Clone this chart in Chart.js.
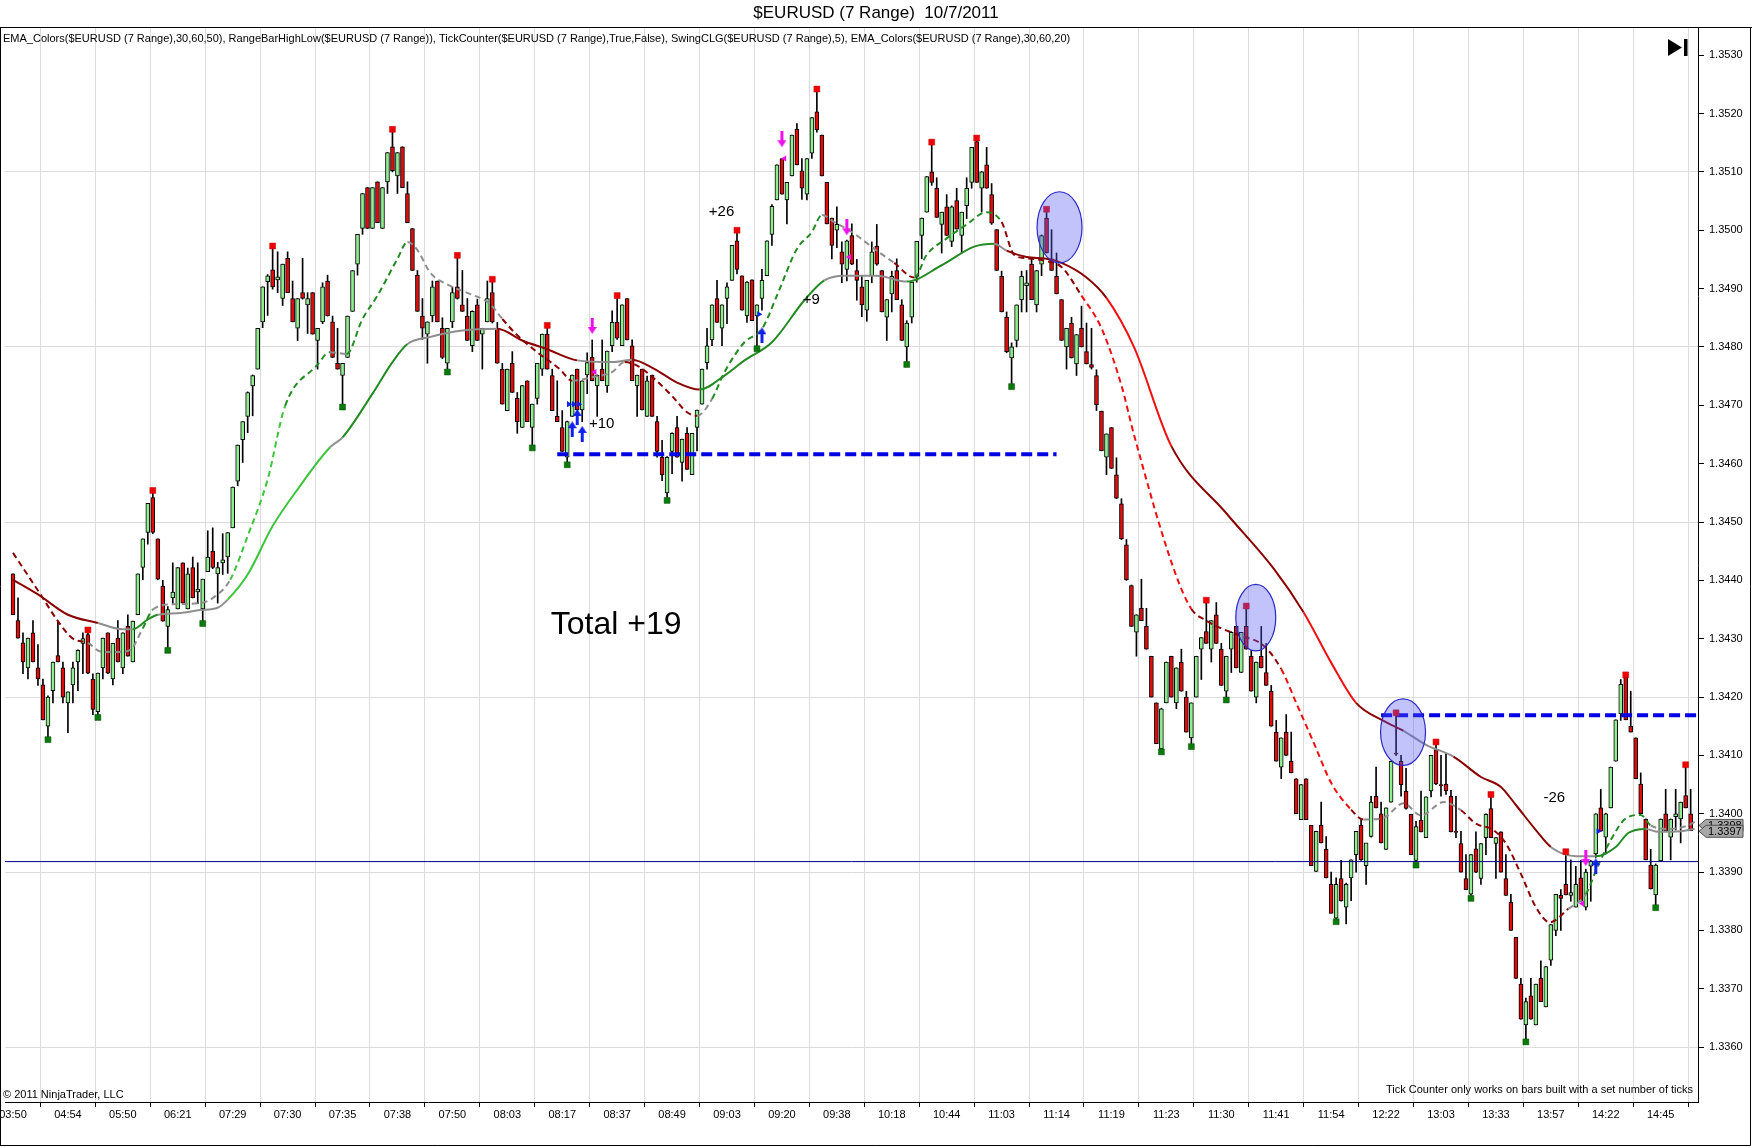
<!DOCTYPE html>
<html><head><meta charset="utf-8">
<script src="https://cdn.jsdelivr.net/npm/chart.js@4.4.1/dist/chart.umd.min.js"></script>
<style>html,body{margin:0;padding:0;background:#fff;overflow:hidden}canvas{display:block}</style>
</head><body>
<canvas id="c" width="1752" height="1147"></canvas>
<script>
// ---------------- DATA (prices in pips above BASE_PRICE) ----------------
const BASE_PRICE = 1.34;
const PIP = 0.0001;
const timeLabels = ['03:50','04:54','05:50','06:21','07:29','07:30','07:35','07:38','07:50','08:03','08:17','08:37','08:49','09:03','09:20','09:38','10:18','10:44','11:03','11:14','11:19','11:23','11:30','11:41','11:54','12:22','13:03','13:33','13:57','14:22','14:45'];
const BARS_PER_LABEL = 11;
const priceTickLabels = ['1.3360','1.3370','1.3380','1.3390','1.3400','1.3410','1.3420','1.3430','1.3440','1.3450','1.3460','1.3470','1.3480','1.3490','1.3500','1.3510','1.3520','1.3530'];

const open = [
41.1,33.1,29.3,25.0,31.0,25.0,22.1,15.0,21.1,27.1,
25.0,19.0,22.1,26.0,29.2,30.7,23.1,17.5,25.0,31.0,
23.1,30.1,25.0,32.1,26.0,34.1,42.2,48.2,54.2,47.1,
39.0,32.1,37.0,35.1,43.0,35.1,42.2,38.0,35.1,41.5,
45.0,41.1,43.0,44.0,49.0,57.0,64.1,68.1,73.3,76.2,
84.3,91.2,93.2,91.5,88.3,95.2,88.3,83.2,89.3,87.2,
89.3,81.1,84.3,91.3,84.3,77.2,75.1,78.2,86.1,94.2,
100.3,107.3,100.3,108.3,100.3,108.3,114.3,109.3,114.3,106.3,
100.3,92.3,85.3,82.2,85.3,91.3,83.2,77.2,84.3,90.3,
87.2,85.3,80.2,87.2,82.2,84.3,89.3,83.2,76.2,69.1,
77.2,71.2,66.2,74.2,66.2,71.2,76.2,82.2,75.1,68.1,
66.2,61.1,68.1,76.2,69.2,75.2,78.2,73.3,76.2,73.3,
80.2,84.2,80.2,88.3,80.2,73.3,76.2,68.1,75.2,67.2,
61.1,55.0,62.1,66.2,60.2,65.2,58.1,66.2,70.2,77.3,
81.2,88.3,83.2,88.3,91.4,98.2,92.2,85.3,91.5,85.3,
88.3,92.2,99.3,105.2,112.3,105.2,109.3,117.3,110.2,106.2,
113.2,120.3,116.3,108.2,102.1,100.0,96.3,93.3,99.1,93.1,
90.3,86.3,92.2,97.3,93.1,85.1,89.1,93.1,87.2,80.0,
85.1,92.1,99.1,103.1,110.0,107.2,101.0,104.0,98.1,105.1,
99.1,104.2,108.2,115.2,107.2,111.2,106.1,100.1,92.1,85.1,
78.1,81.1,88.1,90.5,94.2,87.2,94.2,102.1,95.1,92.1,
88.1,80.0,84.1,77.1,83.2,79.2,77.0,75.1,69.0,61.1,
66.2,58.1,53.1,46.1,39.1,31.1,35.2,32.1,27.0,19.0,
11.1,19.0,27.0,19.0,26.0,20.0,13.0,20.0,28.2,31.2,
28.2,34.1,28.2,21.0,28.2,32.1,24.2,32.1,27.0,20.0,
27.0,24.2,21.0,14.0,8.0,14.0,9.0,6.0,-1.0,6.0,
-2.0,-9.9,-2.0,-6.1,-12.1,-17.9,-11.1,-16.0,-11.0,-7.0,
-2.0,-8.9,-3.9,3.0,0.0,-6.1,2.0,10.4,9.0,3.9,
-0.1,-8.0,-1.1,-4.1,3.9,11.0,5.0,5.1,3.0,-3.0,
-5.1,-11.1,-13.8,-6.0,-11.1,-4.1,0.9,-5.1,-3.1,-11.1,
-15.2,-21.2,-29.2,-36.2,-31.2,-36.2,-28.2,-33.1,-25.1,-20.0,
-14.0,-12.1,-14.0,-16.0,-11.0,-16.0,-9.0,-6.9,1.0,-4.0,
1.0,9.0,17.1,23.4,15.0,13.0,5.1,-0.9,-8.8,-13.9,
-8.1,0.0,-4.0,-0.5,-0.9,3.1,0.0];

const high = [
41.1,37.0,31.0,30.1,33.1,29.0,23.1,20.2,26.0,33.0,
26.0,20.9,26.0,28.1,31.0,31.0,24.0,24.1,30.1,31.0,
29.2,33.1,31.0,34.1,33.0,41.1,47.1,53.2,55.0,47.1,
40.0,35.5,43.0,42.2,43.0,42.1,44.0,43.0,40.2,48.5,
49.0,43.1,48.0,48.2,56.0,63.2,67.2,72.3,75.2,83.2,
90.3,92.4,96.9,96.3,94.2,96.3,91.3,88.3,95.2,89.3,
89.3,83.2,91.0,92.3,85.3,83.2,77.2,85.3,93.1,99.3,
106.3,107.3,107.3,108.3,107.3,113.3,116.9,113.3,114.3,108.3,
100.3,93.1,88.3,84.3,91.3,91.3,85.0,83.2,90.3,95.2,
93.1,88.3,86.2,88.2,83.2,91.3,91.1,84.2,77.2,76.2,
79.2,72.2,73.4,74.2,70.2,77.2,82.2,83.2,76.2,74.2,
69.1,67.3,75.2,76.2,74.2,79.0,81.2,75.2,81.2,79.3,
86.2,88.3,87.2,88.3,81.2,75.2,76.2,75.0,75.2,68.1,
64.0,61.2,65.3,68.1,64.2,66.2,65.2,69.2,76.2,83.2,
87.2,91.4,87.2,91.0,97.4,99.5,92.2,91.2,91.5,87.2,
93.3,98.2,104.4,111.2,112.3,108.2,116.3,118.3,112.3,112.3,
119.3,123.8,116.3,108.2,102.1,104.0,98.0,98.3,101.1,95.0,
92.2,91.4,98.0,101.0,93.1,88.1,93.0,95.1,88.1,84.5,
91.1,98.1,102.1,109.2,114.7,109.0,103.1,106.1,104.2,107.2,
103.1,109.0,114.2,115.4,110.1,114.2,108.0,100.1,93.0,86.0,
80.7,87.2,93.0,93.1,95.1,93.1,99.2,103.2,100.1,96.1,
88.1,83.2,85.1,82.1,87.0,84.1,83.2,76.1,69.0,65.1,
66.2,61.0,54.0,47.0,39.2,34.1,40.2,35.2,27.0,19.0,
18.1,26.0,27.0,25.0,28.2,21.0,19.0,27.0,30.2,36.2,
33.1,36.2,29.2,27.0,31.2,32.1,31.1,35.2,28.0,26.0,
32.1,29.2,22.0,16.0,13.0,17.0,14.0,6.0,5.0,6.0,
-2.0,-3.0,2.0,-3.9,-10.0,-11.0,-8.0,-11.9,-7.9,-3.0,
-1.0,-5.1,3.0,8.0,2.0,1.0,9.0,16.9,10.0,7.8,
-0.1,-1.3,3.9,2.9,10.0,11.9,10.0,10.3,4.0,3.0,
-3.0,-7.0,-7.0,-3.1,-5.1,0.0,2.9,-4.1,-3.1,-7.0,
-13.8,-21.2,-28.2,-31.6,-28.2,-29.2,-25.2,-26.2,-19.0,-13.8,
-13.0,-6.9,-7.9,-9.0,-8.0,-9.5,-8.0,0.0,4.2,0.1,
8.0,16.1,23.0,23.4,21.0,13.0,7.0,-0.9,-6.1,-8.6,
-0.9,4.2,-0.9,4.2,2.0,8.0,4.2];

const low = [
34.1,30.1,24.0,23.1,26.0,22.0,16.1,13.2,19.0,26.0,
19.0,13.9,19.0,21.1,24.0,24.0,17.0,17.0,23.1,24.0,
22.1,26.0,24.0,27.0,26.0,34.1,40.1,46.2,48.0,40.1,
33.0,28.5,36.0,35.1,36.1,35.1,37.0,36.0,33.1,41.5,
42.0,36.1,41.0,41.2,49.0,56.2,60.2,65.3,68.2,76.2,
83.3,85.4,89.9,89.3,87.1,89.3,84.3,81.1,88.2,82.3,
82.2,76.2,84.0,85.3,78.2,76.2,70.2,78.2,86.1,92.3,
99.3,100.3,100.3,101.3,100.3,106.3,110.0,106.3,107.3,101.3,
93.1,86.1,81.3,77.2,84.3,84.3,78.0,76.2,83.3,88.2,
86.1,81.1,79.2,81.1,76.2,84.3,84.1,77.2,70.2,69.1,
72.2,65.2,66.2,67.2,63.2,70.2,75.1,76.2,69.1,67.2,
62.1,60.3,68.1,69.2,67.2,72.0,74.2,68.1,74.2,72.2,
79.2,81.3,80.2,81.2,74.2,68.1,69.2,68.1,68.1,61.1,
57.1,54.2,58.3,61.1,57.0,59.0,58.1,62.2,70.2,76.2,
80.2,84.2,80.2,84.0,91.4,92.5,86.3,84.2,84.5,80.2,
86.3,92.2,97.4,105.2,106.2,101.1,109.3,111.2,105.3,105.2,
112.3,116.8,109.3,101.1,95.1,97.0,91.0,91.3,94.1,88.0,
85.2,84.4,91.0,94.0,86.0,81.1,86.0,88.1,81.1,77.5,
84.1,91.1,95.1,103.1,107.7,102.2,96.1,99.1,97.2,100.2,
96.1,102.0,107.2,108.2,103.1,107.2,101.0,93.1,86.0,79.0,
73.7,80.0,86.0,86.0,88.1,86.0,92.2,96.1,93.1,89.1,
81.1,76.2,78.1,75.1,80.0,77.1,76.2,69.1,62.2,58.1,
59.2,54.0,47.0,40.0,32.1,27.0,33.1,28.2,20.0,12.0,
11.1,19.0,20.0,18.0,21.0,14.0,12.0,20.0,23.0,29.2,
26.0,29.2,22.0,20.0,24.2,25.0,24.2,28.2,21.0,19.0,
25.0,22.0,15.0,9.0,6.0,10.0,7.0,0.0,-1.0,-1.0,
-8.9,-9.9,-5.0,-11.0,-17.0,-18.0,-15.0,-18.9,-14.9,-10.0,
-8.0,-12.1,-4.0,1.0,-5.0,-6.1,2.0,10.0,3.0,0.8,
-7.0,-8.3,-3.1,-4.1,2.9,5.0,3.0,3.3,-3.1,-4.1,
-10.0,-13.0,-14.0,-10.1,-12.1,-7.0,-4.1,-11.1,-10.0,-14.0,
-20.0,-28.2,-35.2,-38.6,-35.2,-36.2,-32.2,-33.1,-26.0,-20.9,
-20.0,-13.9,-15.0,-16.0,-15.0,-16.5,-15.0,-7.5,-3.0,-6.9,
1.0,9.0,16.0,16.1,14.0,6.0,0.0,-7.9,-12.9,-15.6,
-8.1,-3.0,-7.9,-2.8,-5.0,1.0,-2.9];

const close = [
34.1,30.1,26.0,30.1,26.0,23.1,16.1,20.0,26.0,26.0,
20.0,20.9,25.0,28.0,30.0,24.1,17.9,24.1,30.1,24.1,
29.2,26.0,31.0,27.0,33.0,41.1,47.1,53.2,48.2,40.2,
33.0,35.0,38.0,42.2,36.1,41.1,37.0,38.5,40.2,44.0,
42.2,42.2,43.5,48.2,56.0,63.2,67.2,72.2,75.1,83.2,
90.3,92.2,90.3,92.0,94.2,89.3,84.3,88.3,88.3,88.3,
82.2,83.2,90.3,85.3,78.2,76.2,77.2,85.3,93.1,99.3,
106.3,100.3,107.3,101.3,107.3,113.3,110.2,113.3,107.3,101.3,
93.1,86.1,83.2,84.3,90.3,84.3,78.2,83.2,89.3,88.3,
86.1,81.1,86.1,81.1,83.2,88.3,84.3,77.2,70.2,76.2,
72.2,67.2,73.4,67.2,70.2,77.2,82.2,76.2,69.1,67.2,
62.1,67.2,75.2,69.2,74.2,77.3,74.2,75.2,74.2,79.3,
84.2,81.5,87.2,81.2,74.2,75.2,69.2,74.2,68.1,62.1,
58.1,61.1,65.2,61.1,64.2,59.0,65.2,69.2,76.2,80.2,
87.2,84.2,87.2,90.3,97.4,93.3,86.3,91.1,84.5,87.2,
91.4,98.2,104.1,111.2,106.2,108.2,116.3,111.2,107.2,112.3,
119.3,117.2,109.3,101.1,97.4,101.0,94.2,98.2,94.2,91.4,
87.2,91.4,96.3,94.2,86.0,88.1,92.1,88.1,81.1,84.1,
91.1,98.1,102.1,109.2,108.2,102.2,103.1,99.1,104.0,100.2,
103.1,107.2,114.2,108.2,110.0,107.2,101.2,93.1,86.0,79.2,
80.0,87.2,92.1,91.0,88.1,93.1,99.1,96.1,93.1,89.1,
81.1,83.2,78.1,82.1,80.0,77.1,76.5,70.1,62.2,65.1,
59.2,54.1,47.1,40.1,32.1,34.1,33.1,28.2,20.0,12.0,
18.0,26.0,20.0,25.0,21.0,14.0,19.0,27.0,30.2,29.2,
33.1,29.2,22.0,27.0,31.1,25.0,31.1,28.2,21.0,26.0,
25.0,22.0,15.0,9.0,13.0,10.0,7.0,0.0,5.0,-1.0,
-8.9,-3.0,-5.0,-11.0,-17.1,-12.1,-14.9,-12.1,-7.9,-3.0,
-7.9,-5.0,2.0,1.0,-5.0,1.0,9.0,10.2,5.0,0.9,
-7.0,-2.2,-3.1,2.9,10.0,5.1,4.8,3.9,-3.1,-3.2,
-10.0,-13.0,-7.0,-10.0,-5.1,-0.1,-4.1,-4.1,-10.0,-14.0,
-20.0,-28.2,-35.2,-32.2,-35.2,-29.2,-32.2,-26.2,-19.0,-13.8,
-14.5,-13.9,-13.5,-12.1,-15.0,-10.0,-8.1,0.0,-3.0,0.0,
8.0,16.1,22.2,16.1,14.0,6.0,0.0,-7.9,-12.9,-8.8,
-0.9,-3.0,-0.9,0.0,2.0,1.0,-2.9];

// EMA(50) solid line, read at these bars
const emaSlowBar = [0,5,11,17,22,24,27,29,33.5,37.5,41,43,47,52,57,63.5,66,72,76,79,83.5,90,97,102,107,113,120,124,128.5,133,137.5,142.5,146.5,152,158.5,162.5,166.5,173,179,186,192.5,196.5,199,203,207,210,215,219,224.5,232,243,252.5,258.5,264,269,274.5,278.5,283,288.5,294,298,301,305,308,311,314,317,321,323.5,327,329.5,334,336.8];
const emaSlowVal = [40.1,37.6,34.1,32.7,31.6,31.6,33.3,34.1,34.4,34.9,35.3,36.7,41.0,49.3,55.6,62.8,64.5,72.0,77.4,80.5,81.7,82.8,83.1,81.1,79.6,77.7,77.4,77.8,76.2,73.9,72.7,75.1,77.7,80.8,88.0,91.4,92.2,92.2,91.2,94.0,97.2,97.7,96.5,95.4,95.1,94.4,91.9,88.4,80.0,63.0,51.5,42.0,34.5,25.9,19.0,15.9,14.2,11.8,9.8,6.3,4.6,1.5,-2.8,-5.7,-7.0,-7.3,-7.3,-5.7,-3.3,-2.6,-3.1,-3.0,-2.6];
// EMA(20) dashed line, read at these bars
const emaFastBar = [0,5.5,9,12,15,17.5,21,23.5,26,28,32,37.5,41,43.5,47,51,54.5,60.8,63.5,66.8,70,73,77,79,81,83.5,87.5,91.5,95.5,98,101,105,109.5,112,116,120,122.5,125,128.5,132,135,137,140,142.5,146.5,150,153,157,160,162,164.5,168,173,176.5,180.5,183,187,191,195,198,200.5,203,207,210,214,218,222,224.5,232.5,236,239,242.5,246,250.5,254,257,260.5,264,268,270.5,274.5,278.5,282,286.5,290,293,296.5,299,302,305,307.8,311.5,315,317.5,320,323,326,328,331.5,335.5,336.8];
const emaFastVal = [44.7,37.6,33.0,30.0,29.3,27.8,27.7,28.1,31.8,35.0,35.9,36.1,37.6,40.1,47.6,57.3,69.9,76.8,79.1,78.8,84.8,88.8,95.1,98.0,96.6,92.8,90.5,89.1,87.4,84.8,82.0,79.1,76.2,74.2,74.8,75.7,77.4,76.8,74.5,71.6,68.8,68.2,71.1,75.7,80.8,83.1,88.8,96.8,99.7,102.6,101.4,99.7,96.5,94.4,91.9,95.8,98.6,101.0,103.1,101.4,95.8,95.2,94.7,93.7,88.8,83.2,73.4,65.0,41.9,35.1,33.1,31.6,30.5,28.8,24.8,19.0,12.2,5.3,0.7,-1.0,-0.7,1.8,-0.3,2.0,0.6,-1.7,-2.8,-5.1,-10.3,-16.0,-18.6,-16.3,-13.8,-8.8,-4.5,-0.8,-0.2,-2.0,-2.6,-2.0,-1.4];

// swing markers [bar, pips]
const swingHighs = [[15,31.5],[28,55.4],[52,97.3],[76,117.3],[89,95.7],[96,91.6],[107,83.7],[121,88.8],[145,100.0],[161,124.2],[184,115.1],[193,115.8],[207,103.6],[239,36.6],[247,35.6],[277,17.3],[285,12.3],[296,3.3],[311,-6.5],[323,23.8],[335,8.4]];
const swingLows = [[7,12.7],[17,16.5],[31,28.0],[38,32.6],[66,69.7],[87,75.7],[104,62.7],[111,59.8],[131,53.7],[149,79.7],[179,77.0],[200,73.2],[230,10.6],[236,11.5],[243,19.5],[265,-18.5],[281,-8.8],[292,-14.5],[303,-39.1],[329,-16.1]];
// trade entry / exit marks [bar, pips]
const shortArrows = [[116,83.6],[154,115.6],[167,100.5],[315,-7.6]];
const longArrows = [[112,65.9],[113,68.0],[114,65.1],[150,82.0],[317,-9.0]];
const shortMarks = [[116.5,75.7],[154.5,112.3],[167.5,95.4],[314.3,-15.4]];
const longMarks = [[111.3,70.2],[112.3,70.2],[113.3,70.2],[149.4,85.6],[317.5,-3.0]];
// drawn levels [fromBar, toBar, pips]
const levelLines = [[109,209,61.6],[274,345,16.9]];
const priceLine = -8.2;
// highlight ellipses [bar, pips, halfWidthBars, halfHeightPips]
const ellipses = [[209.6,100.5,4.5,6.1],[248.9,33.6,4.0,5.7],[278.4,14.0,4.5,5.7]];
// text notes [text, bar, pips]
const notes = [['+26',141.9,103.1],['+9',159.9,88.0],['+10',117.9,66.9],['-26',308.7,2.7]];
const totalNote = ['Total +19',120.8,32.3];
const priceMarkers = ['1.3398','1.3397'];

// ---------------- STYLE / FRAME GEOMETRY ----------------
const BAR0_PX = 13, BAR_PITCH_PX = 4.993;          // where bar 0 sits and bar spacing (pixels)
const ANCHOR_PIPS = 50, ANCHOR_PX = 522.0, PX_PER_PIP = 5.835; // 1.3450 row and vertical scale
const FONT = '"Liberation Sans", Arial, sans-serif';
const UP_FILL = '#90ee90', DOWN_FILL = '#e00c0c';
const EMA_COLORS = {dn:'#8b0000', dnFast:'#f01010', flat:'#8e8e8e', up:'#228b22', upFast:'#3cc43c'};
const emaSlowZones = [[0,'dn'],[12,'flat'],[24,'up'],[29,'flat'],[42,'upFast'],[63,'flat'],[66,'up'],[78,'flat'],[97,'dn'],[113,'flat'],[124,'dn'],[137.5,'up'],[162,'flat'],[179,'up'],[195,'flat'],[199,'dn'],[219,'dnFast'],[232,'dn'],[258,'dnFast'],[269,'dn'],[276,'flat'],[287,'dn'],[308,'flat'],[315,'up'],[326,'flat']];
const emaFastZones = [[0,'dn'],[15,'flat'],[24,'up'],[28,'flat'],[43,'upFast'],[54,'up'],[63.5,'flat'],[66.8,'up'],[79,'flat'],[98,'dn'],[112,'flat'],[122,'dn'],[137,'flat'],[139,'up'],[162,'flat'],[176,'dn'],[180.5,'up'],[196,'dn'],[214,'dnFast'],[236,'dn'],[253,'dnFast'],[265,'dn'],[270,'flat'],[288,'dn'],[308,'flat'],[315,'up'],[327,'flat']];

const toPrice = p => BASE_PRICE + p * PIP;
const zoneColor = (zones, x) => { let c = zones[0][1]; for (const z of zones) { if (x >= z[0] - 1e-9) c = z[1]; } return EMA_COLORS[c]; };
const idx = open.map((_, i) => i);

function makeArrow(color, up) {
  const c = document.createElement('canvas'); c.width = 9; c.height = 16;
  const g = c.getContext('2d'); g.fillStyle = color; g.beginPath();
  const pts = [[4.5,0],[9,7],[6,7],[6,16],[3,16],[3,7],[0,7]];
  pts.forEach((p, k) => { const y = up ? p[1] : 16 - p[1]; if (k) g.lineTo(p[0], y); else g.moveTo(p[0], y); });
  g.closePath(); g.fill(); return c;
}
const pt = a => a.map(d => ({x: d[0], y: toPrice(d[1])}));

const datasets = [
  { type:'bar', label:'wick', data: idx.map(i => ({x:i, y:[toPrice(low[i]), toPrice(high[i])]})),
    backgroundColor:'#000', borderWidth:0, barThickness:1, grouped:false, order:20 },
  { type:'bar', label:'body', data: idx.map(i => ({x:i, y:[toPrice(open[i]), toPrice(close[i])]})),
    backgroundColor: idx.map(i => close[i] >= open[i] ? UP_FILL : DOWN_FILL),
    borderColor:'#000', borderWidth:1, borderSkipped:false, barThickness:4, grouped:false, order:19 },
  { type:'line', label:'ema50', data: emaSlowBar.map((x,k) => ({x, y: toPrice(emaSlowVal[k])})),
    borderWidth:2, pointRadius:0, cubicInterpolationMode:'monotone', order:10,
    segment:{ borderColor: c => zoneColor(emaSlowZones, c.p0.parsed.x) } },
  { type:'line', label:'ema20', data: emaFastBar.map((x,k) => ({x, y: toPrice(emaFastVal[k])})),
    borderWidth:2, borderDash:[6,4], pointRadius:0, cubicInterpolationMode:'monotone', order:9,
    segment:{ borderColor: c => zoneColor(emaFastZones, c.p0.parsed.x) } },
  { type:'line', label:'last', data: [{x:-20, y:toPrice(priceLine)}, {x:360, y:toPrice(priceLine)}],
    borderColor:'#00008b', borderWidth:1, pointRadius:0, order:8 },
  ...levelLines.map((l, k) => ({ type:'line', label:'level'+k, data:[{x:l[0], y:toPrice(l[2])}, {x:l[1], y:toPrice(l[2])}],
    borderColor:'#0000e6', borderWidth:4, borderDash:[11,5], pointRadius:0, order:7 })),
  { type:'scatter', label:'swingHigh', data: pt(swingHighs), pointStyle:'rect', pointRadius:4.2,
    backgroundColor:'#f00000', borderColor:'#c00000', borderWidth:0.5, order:5 },
  { type:'scatter', label:'swingLow', data: pt(swingLows), pointStyle:'rect', pointRadius:4.2,
    backgroundColor:'#0a7a0a', borderColor:'#064f06', borderWidth:0.5, order:5 },
  { type:'scatter', label:'shortArrows', data: pt(shortArrows), pointStyle: makeArrow('#ee11ee', false), order:4 },
  { type:'scatter', label:'longArrows', data: pt(longArrows), pointStyle: makeArrow('#1020ee', true), order:4 },
  { type:'scatter', label:'shortMarks', data: pt(shortMarks), pointStyle:'triangle', rotation:-90, pointRadius:3.5,
    backgroundColor:'#ee11ee', borderWidth:0, order:4 },
  { type:'scatter', label:'longMarks', data: pt(longMarks), pointStyle:'triangle', rotation:90, pointRadius:3.5,
    backgroundColor:'#1020ee', borderWidth:0, order:4 },
];

const overlay = {
  id:'overlay',
  afterDatasetsDraw(chart) {
    const {ctx, chartArea:a, scales:{x, y}} = chart;
    ctx.save();
    ctx.beginPath(); ctx.rect(a.left, a.top, a.right - a.left, a.bottom - a.top); ctx.clip();
    ellipses.forEach(e => {
      const cx = x.getPixelForValue(e[0]), cy = y.getPixelForValue(toPrice(e[1]));
      const rx = Math.abs(x.getPixelForValue(e[0] + e[2]) - cx);
      const ry = Math.abs(y.getPixelForValue(toPrice(e[1] + e[3])) - cy);
      ctx.beginPath(); ctx.ellipse(cx, cy, rx, ry, 0, 0, Math.PI*2);
      ctx.fillStyle = 'rgba(90,90,245,0.36)'; ctx.fill();
      ctx.strokeStyle = '#2a2ac8'; ctx.lineWidth = 1.2; ctx.stroke();
    });
    ctx.fillStyle = '#000'; ctx.textAlign = 'center'; ctx.textBaseline = 'middle';
    ctx.font = '15px ' + FONT;
    notes.forEach(n => ctx.fillText(n[0], x.getPixelForValue(n[1]), y.getPixelForValue(toPrice(n[2]))));
    ctx.font = '32px ' + FONT;
    ctx.fillText(totalNote[0], x.getPixelForValue(totalNote[1]), y.getPixelForValue(toPrice(totalNote[2])));
    ctx.restore();
  },
  afterDraw(chart) {
    const {ctx, chartArea:a, scales:{y}} = chart;
    const W = chart.width;
    ctx.save();
    ctx.strokeStyle = '#000'; ctx.lineWidth = 1;
    ctx.beginPath();
    ctx.moveTo(0, 27.5); ctx.lineTo(W, 27.5);
    ctx.moveTo(0.5, 27.5); ctx.lineTo(0.5, 1145.5);
    ctx.moveTo(0, 1145.5); ctx.lineTo(1750.5, 1145.5);
    ctx.moveTo(1750.5, 27.5); ctx.lineTo(1750.5, 1145.5);
    ctx.stroke();
    ctx.fillStyle = '#000'; ctx.textBaseline = 'middle';
    ctx.font = '17px ' + FONT; ctx.textAlign = 'center';
    ctx.fillText('$EURUSD (7 Range)  10/7/2011', W/2, 13);
    ctx.font = '11px ' + FONT; ctx.textAlign = 'left';
    ctx.fillText('EMA_Colors($EURUSD (7 Range),30,60,50), RangeBarHighLow($EURUSD (7 Range)), TickCounter($EURUSD (7 Range),True,False), SwingCLG($EURUSD (7 Range),5), EMA_Colors($EURUSD (7 Range),30,60,20)', 3, 39);
    ctx.fillText('\u00A9 2011 NinjaTrader, LLC', 3, 1095);
    ctx.textAlign = 'right';
    ctx.fillText('Tick Counter only works on bars built with a set number of ticks', a.right - 5, 1090);
    ctx.beginPath(); ctx.moveTo(1668, 39); ctx.lineTo(1682, 47.5); ctx.lineTo(1668, 56); ctx.closePath(); ctx.fill();
    ctx.fillRect(1684, 39, 3.5, 17);
    priceMarkers.forEach(m => {
      const py = y.getPixelForValue(parseFloat(m));
      const x0 = a.right + 1, h = 12;
      ctx.beginPath();
      ctx.moveTo(x0, py); ctx.lineTo(x0 + 7, py - h/2); ctx.lineTo(1743, py - h/2);
      ctx.lineTo(1743, py + h/2); ctx.lineTo(x0 + 7, py + h/2); ctx.closePath();
      ctx.fillStyle = '#a8a8a8'; ctx.fill(); ctx.strokeStyle = '#505050'; ctx.lineWidth = 1; ctx.stroke();
      ctx.fillStyle = '#000'; ctx.textAlign = 'left'; ctx.font = '11px ' + FONT;
      ctx.fillText(m, x0 + 9, py + 0.5);
    });
    ctx.restore();
  }
};

const chart = new Chart(document.getElementById('c'), {
  type:'bar',
  data:{ datasets },
  options:{
    responsive:false, animation:false, devicePixelRatio:1,
    layout:{ padding:{ top:28, left:0, right:0, bottom:0 } },
    plugins:{ legend:{display:false}, tooltip:{enabled:false}, title:{display:false} },
    scales:{
      x:{ type:'linear', min:-2.6, max:337, offset:false, bounds:'data',
        afterBuildTicks: s => { s.ticks = timeLabels.map((_, k) => ({value: k * BARS_PER_LABEL})); },
        afterFit: s => { s.height = 45; s.paddingLeft = 0; s.paddingRight = 0; },
        ticks:{ autoSkip:false, maxRotation:0, minRotation:0, padding:1, color:'#000',
          font:{ family:FONT, size:11 },
          callback: v => timeLabels[Math.round(v / BARS_PER_LABEL)] || '' },
        grid:{ color:'#dcdcdc', tickColor:'#000', tickLength:5, lineWidth:1 },
        border:{ display:true, color:'#000', width:1 } },
      y:{ type:'linear', position:'right', min:1.33505, max:1.35349, bounds:'data',
        afterBuildTicks: s => { s.ticks = priceTickLabels.map(t => ({value: parseFloat(t)})); },
        afterFit: s => { s.width = 54; s.paddingTop = 0; s.paddingBottom = 0; },
        ticks:{ padding:5, color:'#000', font:{ family:FONT, size:11 }, callback: v => v.toFixed(4) },
        grid:{ color: c => (c.tick && Math.round(c.tick.value * 10000) % 30 === 10) ? '#dcdcdc' : 'rgba(0,0,0,0)',
          tickColor:'#000', tickLength:6, lineWidth:1 },
        border:{ display:true, color:'#000', width:1 } }
    }
  },
  plugins:[overlay]
});

// align the value ranges of both axes with the frame geometry measured on the reference
function fitAxesToFrame() {
  const xs = chart.scales.x, ys = chart.scales.y;
  chart.options.scales.x.min = (xs.left - BAR0_PX) / BAR_PITCH_PX;
  chart.options.scales.x.max = (xs.right - BAR0_PX) / BAR_PITCH_PX;
  chart.options.scales.y.min = toPrice(ANCHOR_PIPS - (ys.bottom - ANCHOR_PX) / PX_PER_PIP);
  chart.options.scales.y.max = toPrice(ANCHOR_PIPS + (ANCHOR_PX - ys.top) / PX_PER_PIP);
  chart.update();
}
fitAxesToFrame();
fitAxesToFrame();
</script>
</body></html>
